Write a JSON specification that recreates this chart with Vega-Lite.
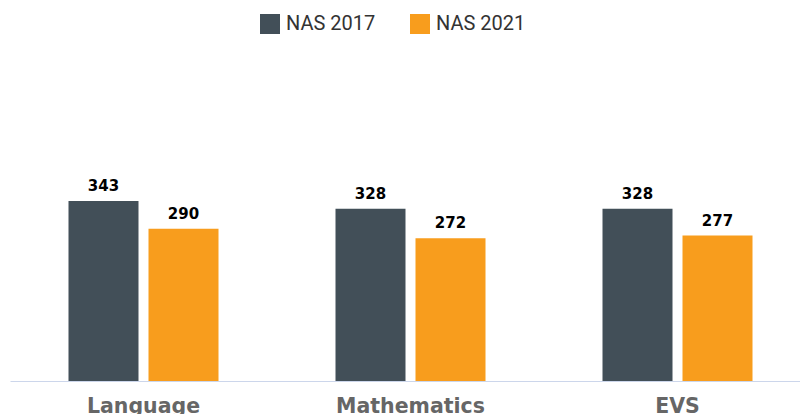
{
  "$schema": "https://vega.github.io/schema/vega-lite/v6.json",
  "width": 790,
  "height": 315,
  "autosize": "none",
  "padding": {"left": 10, "top": 66, "right": 0, "bottom": 33},
  "background": "#ffffff",
  "data": {
    "values": [
      {"subject": "Language", "survey": "NAS 2017", "score": 343},
      {"subject": "Language", "survey": "NAS 2021", "score": 290},
      {"subject": "Mathematics", "survey": "NAS 2017", "score": 328},
      {"subject": "Mathematics", "survey": "NAS 2021", "score": 272},
      {"subject": "EVS", "survey": "NAS 2017", "score": 328},
      {"subject": "EVS", "survey": "NAS 2021", "score": 277}
    ]
  },
  "encoding": {
    "x": {
      "field": "subject",
      "type": "nominal",
      "sort": ["Language", "Mathematics", "EVS"],
      "title": null,
      "scale": {"range": [0, 801], "paddingInner": 0.4382, "paddingOuter": 0.2191},
      "axis": {
        "labelAngle": 0,
        "domainColor": "#ccd6eb",
        "domainWidth": 1,
        "ticks": false,
        "tickSize": 0,
        "grid": false,
        "labelFont": "DejaVu Sans",
        "labelFontWeight": "bold",
        "labelFontSize": 20.5,
        "labelColor": "#666666",
        "labelPadding": 15
      }
    },
    "xOffset": {
      "field": "survey",
      "type": "nominal",
      "scale": {"paddingInner": 0.125, "paddingOuter": 0}
    },
    "y": {
      "field": "score",
      "type": "quantitative",
      "scale": {"domain": [0, 600], "nice": false},
      "axis": null
    }
  },
  "layer": [
    {
      "mark": {"type": "bar"},
      "encoding": {
        "color": {
          "field": "survey",
          "type": "nominal",
          "scale": {"domain": ["NAS 2017", "NAS 2021"], "range": ["#424f58", "#f89d1d"]},
          "legend": {
            "title": null,
            "orient": "none",
            "direction": "horizontal",
            "legendX": 250,
            "legendY": -52,
            "symbolType": "square",
            "symbolSize": 400,
            "symbolStrokeWidth": 0,
            "symbolOpacity": 1,
            "labelFont": "Roboto",
            "labelFontSize": 20,
            "labelColor": "#333333",
            "labelOffset": 6,
            "columnPadding": 34,
            "padding": 0
          }
        }
      }
    },
    {
      "mark": {
        "type": "text",
        "dy": -10,
        "baseline": "alphabetic",
        "font": "DejaVu Sans",
        "fontWeight": "bold",
        "fontSize": 15,
        "color": "#000000"
      },
      "encoding": {
        "text": {"field": "score", "type": "quantitative"}
      }
    }
  ],
  "config": {"view": {"stroke": null}}
}
